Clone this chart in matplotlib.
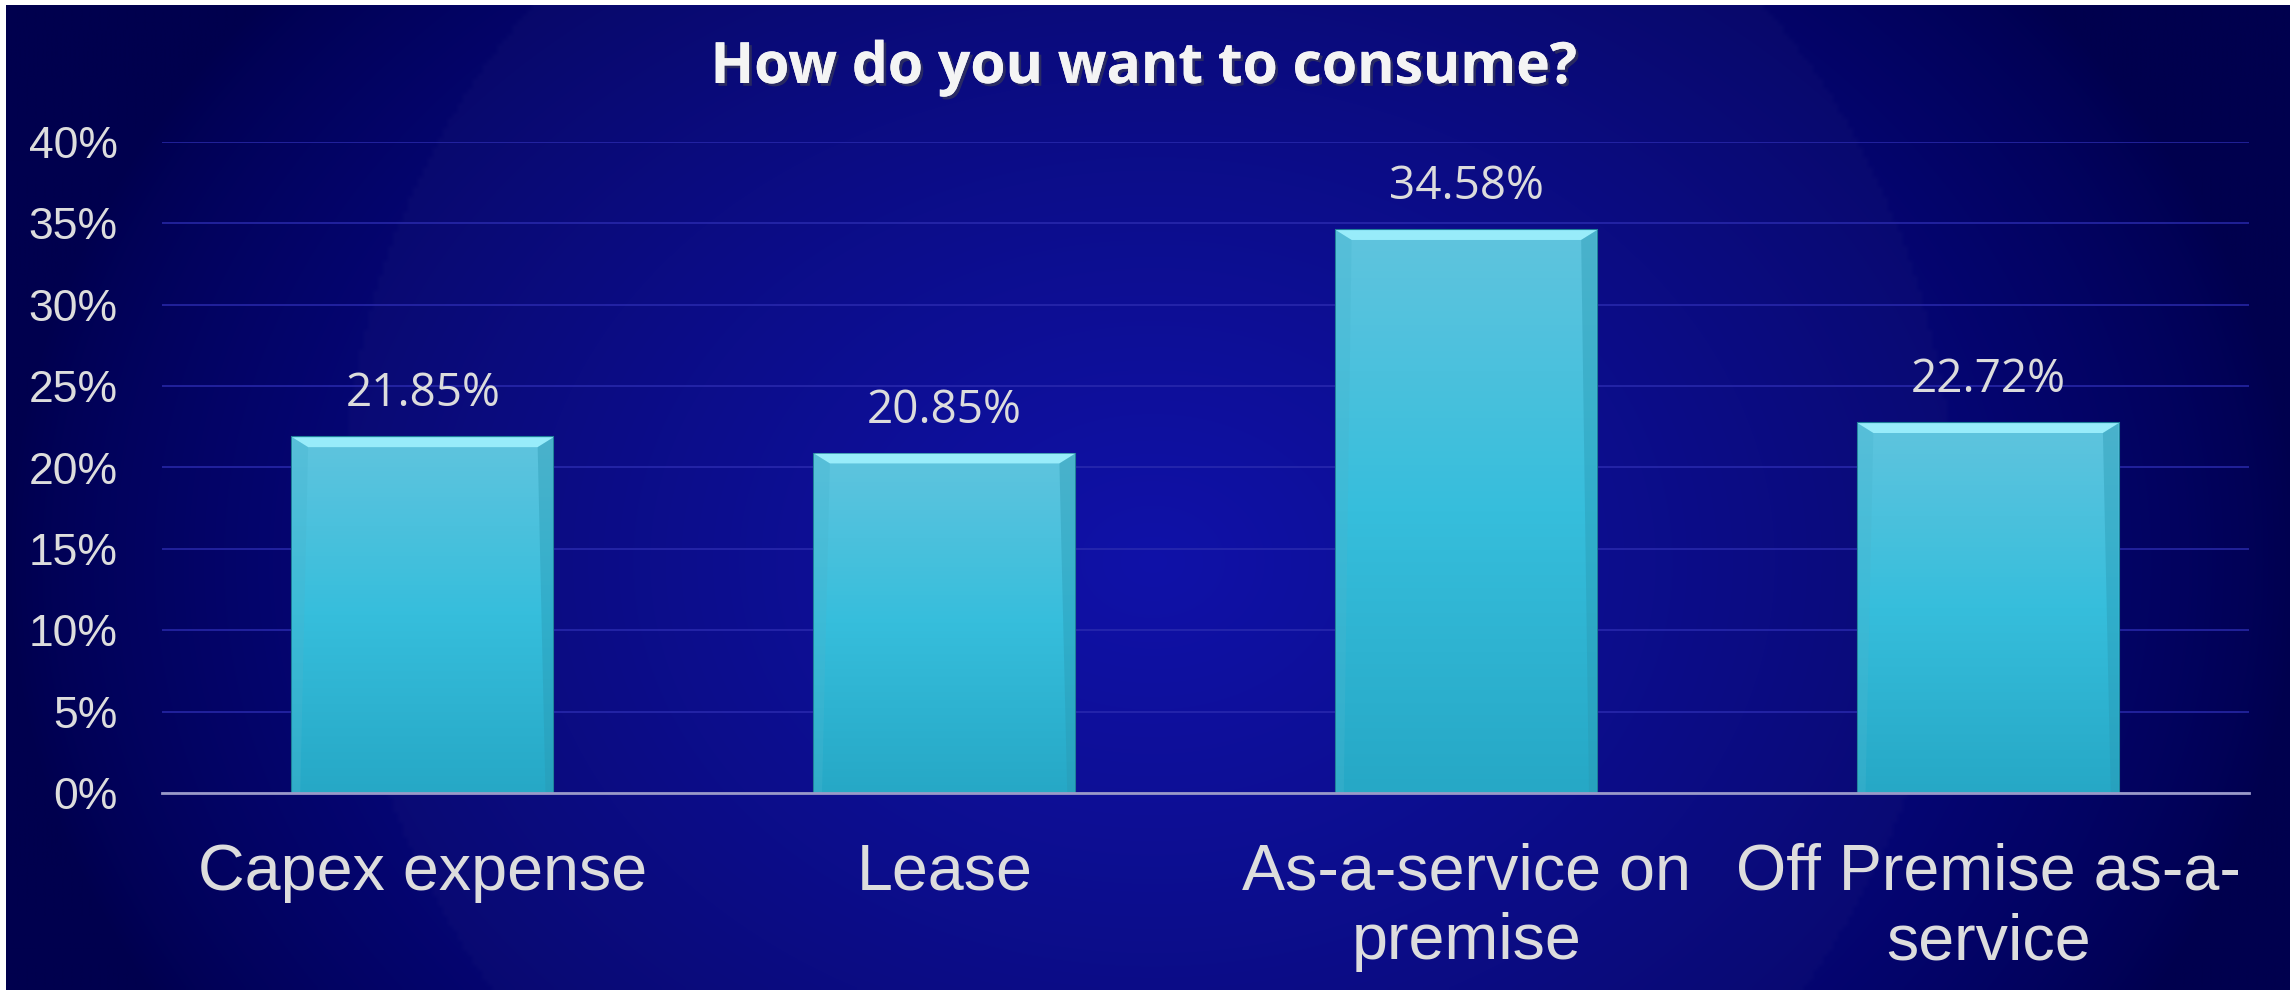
import matplotlib
matplotlib.use("Agg")
import matplotlib.pyplot as plt
import matplotlib.patheffects as pe
from matplotlib.patches import Polygon
import numpy as np

# Survey data
categories = ["Capex expense", "Lease", "As-a-service on\npremise", "Off Premise as-a-\nservice"]
shares = [21.85, 20.85, 34.58, 22.72]
yticks = [0, 5, 10, 15, 20, 25, 30, 35, 40]
ytick_labels = [f"{t}%" for t in yticks]
title = "How do you want to consume?"

W, H = 2290, 990
fig = plt.figure(figsize=(W / 100, H / 100), dpi=100, facecolor="white")

# background: dark navy edges, brighter blue middle, faint big circle
bg = fig.add_axes([6 / W, 0, 1 - 6 / W, 1 - 5 / H], zorder=-5)
gx, gy = np.meshgrid(np.linspace(0, W, 460), np.linspace(0, H, 200))
d = np.sqrt(((gx - 1150) / 1150) ** 2 + ((gy - 560) / 900) ** 2)
t = np.clip(1 - d, 0, 1) ** 0.75
dark = np.array([0, 0, 78]) / 255
bright = np.array([12, 14, 172]) / 255
img = dark[None, None, :] + (bright - dark)[None, None, :] * t[..., None]
circle = ((gx - 1145) ** 2 + (gy - 520) ** 2) < 810 ** 2
img[circle] = img[circle] * 0.9 + np.array([50, 50, 130]) / 255 * 0.1
bg.imshow(img, extent=[0, W, H, 0], aspect="auto", interpolation="bilinear")
bg.set_xlim(0, W)
bg.set_ylim(H, 0)
bg.axis("off")

ax = fig.add_axes([162 / W, 1 - 793 / H, (2249 - 162) / W, (793 - 142) / H])
ax.set_facecolor("none")
x = np.arange(len(categories))
bars = ax.bar(x, shares, width=0.5, color="#3dbcd8", edgecolor="#1f7f98", linewidth=1.5, zorder=3)

# vertical gradient inside each bar, clipped to the bar
grad = np.linspace(0, 1, 256)[:, None]
top_c = np.array([96, 196, 222]) / 255
mid_c = np.array([54, 190, 220]) / 255
bot_c = np.array([38, 168, 198]) / 255
g = grad[..., None]
gimg = np.where(g < 0.5, top_c * (1 - 2 * g) + mid_c * 2 * g, mid_c * (2 - 2 * g) + bot_c * (2 * g - 1))
dx, dy = 0.03, 0.6
for b in bars:
    x0, w, h = b.get_x(), b.get_width(), b.get_height()
    im = ax.imshow(gimg, extent=[x0, x0 + w, 0, h], aspect="auto", zorder=3.5,
                   interpolation="bilinear")
    im.set_clip_path(b)
    # bevel: light top, darker sides
    ax.add_patch(Polygon([(x0, h), (x0 + w, h), (x0 + w - dx, h - dy), (x0 + dx, h - dy)],
                         closed=True, facecolor="#98ecfa", edgecolor="none", zorder=4))
    ax.add_patch(Polygon([(x0 + w, h), (x0 + w, 0), (x0 + w - dx * 0.5, 0), (x0 + w - dx, h - dy)],
                         closed=True, facecolor="#2a98b2", alpha=0.4, edgecolor="none", zorder=4))
    ax.add_patch(Polygon([(x0, h), (x0, 0), (x0 + dx * 0.5, 0), (x0 + dx, h - dy)],
                         closed=True, facecolor="#48b6cf", alpha=0.35, edgecolor="none", zorder=4))
    ax.annotate(f"{h:.2f}%", (x0 + w / 2, h), xytext=(0, 31), textcoords="offset points",
                ha="center", va="center", fontsize=33, color="#dcdcdc", family="Open Sans")

ax.set_xlim(-0.5, len(categories) - 0.5)
ax.set_ylim(0, 40)
ax.set_yticks(yticks)
ax.set_yticklabels(ytick_labels, family="Liberation Sans", fontsize=32, color="#dddddd")
ax.set_xticks(x)
ax.set_xticklabels(categories, family="Liberation Sans", fontsize=46.5, color="#dddddd",
                   linespacing=1.2, va="top")
ax.tick_params(axis="y", length=0, pad=32)
ax.tick_params(axis="x", length=0, pad=36)
ax.grid(axis="y", color="#2c2cb0", linewidth=1.3, alpha=0.8, zorder=0)
ax.set_axisbelow(True)
for s in ["top", "right", "left"]:
    ax.spines[s].set_visible(False)
ax.spines["bottom"].set_color("#9a9ac8")
ax.spines["bottom"].set_linewidth(2)
ax.spines["bottom"].set_zorder(5)

fig.text(0.4995, 1 - 68 / H, title, ha="center", va="center", fontsize=41,
         fontweight="bold", color="#f4f4f4", family="Open Sans",
         path_effects=[pe.withSimplePatchShadow(offset=(2, -2), alpha=0.5), pe.Normal()])

fig.savefig("out.png", dpi=100, facecolor=fig.get_facecolor())
